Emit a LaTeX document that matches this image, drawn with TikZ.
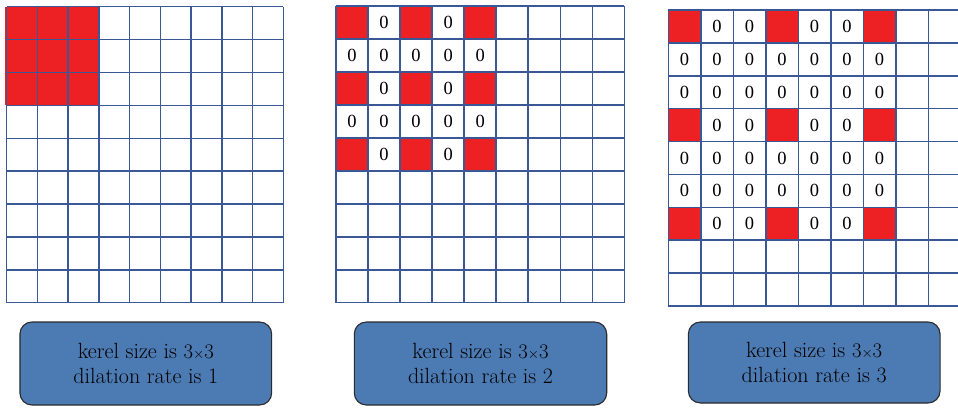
\documentclass[tikz,border=0pt]{standalone}
\usepackage{fontspec}
\newfontfamily\cellfont{Liberation Serif}
\definecolor{gridblue}{HTML}{3A5796}
\definecolor{cellred}{HTML}{ED2124}
\definecolor{capblue}{HTML}{4C7AB3}
\definecolor{capedge}{HTML}{2B2B2B}
\newcommand\kernsz{$3{\scriptstyle\times}3$}
\begin{document}
\begin{tikzpicture}[x=1pt,y=-1pt,
  gridline/.style={draw=gridblue,line width=1.5pt},
  zero/.style={font=\cellfont\fontsize{18.5}{18.5}\selectfont,inner sep=0pt},
  caption/.style={draw=capedge,fill=capblue,rounded corners=12pt,line width=1.1pt,
    align=center,inner sep=0pt,font=\fontsize{22}{24.5}\selectfont}]
\useasboundingbox (0,0) rectangle (958,407);

% dilation rate 1: plain 3x3 kernel in the corner
\begin{scope}[shift={(6.7pt,-6.7pt)},x=30.73pt,y=-32.89pt]
  \fill[cellred] (-0.05,0) rectangle (3,3);
  \foreach \i in {0,...,9} {
    \draw[gridline] (\i,0) -- (\i,9);
    \draw[gridline] (0,\i) -- (9,\i);
  }
\end{scope}

% dilation rate 2: kernel spread over 5x5, gaps filled with zeros
\begin{scope}[shift={(336pt,-6pt)},x=32.04pt,y=-32.97pt]
  \foreach \r in {0,...,4} {
    \foreach \c in {0,...,4} {
      \pgfmathtruncatemacro\m{mod(\r,2)+mod(\c,2)}
      \ifnum\m=0
        \fill[cellred] (\c,\r) rectangle (\c+1,\r+1);
      \else
        \node[zero] (za-\r-\c) at (\c+0.5,\r+0.5) {0};
      \fi
    }
  }
  \foreach \i in {0,...,9} {
    \draw[gridline] (\i,0) -- (\i,9);
    \draw[gridline] (0,\i) -- (9,\i);
  }
\end{scope}

% dilation rate 3: kernel spread over 7x7, gaps filled with zeros
\begin{scope}[shift={(668.3pt,-10pt)},x=32.5pt,y=-32.89pt]
  \foreach \r in {0,...,6} {
    \foreach \c in {0,...,6} {
      \pgfmathtruncatemacro\m{mod(\r,3)+mod(\c,3)}
      \ifnum\m=0
        \fill[cellred] (\c,\r) rectangle (\c+1,\r+1);
      \else
        \node[zero] (zb-\r-\c) at (\c+0.5,\r+0.5) {0};
      \fi
    }
  }
  \foreach \i in {0,...,9} {
    \draw[gridline] (\i,0) -- (\i,9);
    \draw[gridline] (0,\i) -- (9,\i);
  }
\end{scope}

% captions
\node[caption,minimum width=251.7pt,minimum height=83pt] (cap1) at (145.8,363.5)
  {kerel size is \kernsz\\dilation rate is 1};
\node[caption,minimum width=252.4pt,minimum height=83pt] (cap2) at (480.5,363.5)
  {kerel size is \kernsz\\dilation rate is 2};
\node[caption,minimum width=251.7pt,minimum height=81pt] (cap3) at (814.2,362.5)
  {kerel size is \kernsz\\dilation rate is 3};
\end{tikzpicture}
\end{document}
